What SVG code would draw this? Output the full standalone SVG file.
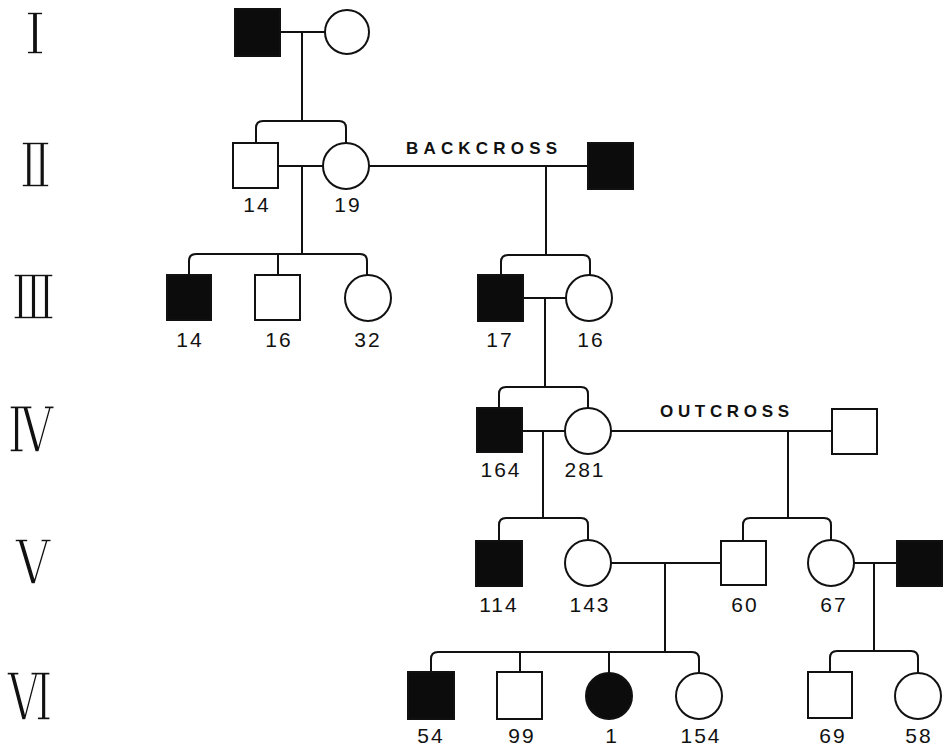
<svg xmlns="http://www.w3.org/2000/svg" width="951" height="747" viewBox="0 0 951 747">
  <style>
    .ln { fill: none; stroke: #111; stroke-width: 2; }
    .open { fill: #fff; stroke: #111; stroke-width: 2; }
    .aff { fill: #0c0c0c; stroke: #111; stroke-width: 2; }
    .lbl { font-family: "Liberation Sans", "DejaVu Sans", sans-serif; font-size: 21px; fill: #111; text-anchor: middle; letter-spacing: 2px; }
    .cross { font-family: "Liberation Sans", "DejaVu Sans", sans-serif; font-size: 17px; font-weight: bold; fill: #111; }
    /* roman generation numerals: serif glyphs stretched, thinned by a white outline */
    .gen { font-family: "DejaVu Serif", "Liberation Serif", serif; font-size: 22px; fill: #111; text-anchor: middle;
           stroke: #fff; stroke-width: 1.3px; vector-effect: non-scaling-stroke; }
  </style>
  <rect width="951" height="747" fill="#fff"/>

  <!-- generation numerals -->
  <g id="generations">
    <text class="gen" transform="translate(35,53.5) scale(1,2.6)" textLength="22" lengthAdjust="spacingAndGlyphs">Ⅰ</text>
    <text class="gen" transform="translate(35.5,186.5) scale(1,2.8)" textLength="32" lengthAdjust="spacingAndGlyphs">Ⅱ</text>
    <text class="gen" transform="translate(33.5,318.5) scale(1,2.8)" textLength="44" lengthAdjust="spacingAndGlyphs">Ⅲ</text>
    <text class="gen" transform="translate(30.5,451.5) scale(1,2.85)" textLength="46" lengthAdjust="spacingAndGlyphs">Ⅳ</text>
    <text class="gen" transform="translate(33,583.5) scale(1,2.8)" textLength="35" lengthAdjust="spacingAndGlyphs">Ⅴ</text>
    <text class="gen" transform="translate(30,719.5) scale(1,2.95)" textLength="45" lengthAdjust="spacingAndGlyphs">Ⅵ</text>
  </g>

  <!-- matings, descent lines and sibship bars -->
  <g id="connectors">
    <path class="ln" d="M280 32 H325 M302 32 V121"/>
    <path class="ln" d="M256 143 V128 Q256 121 263 121 H339 Q346 121 346 128 V143"/>
    <path class="ln" d="M278 166 H323 M302 166 V254"/>
    <path class="ln" d="M369 166 H588 M546 166 V255"/>
    <path class="ln" d="M189 275 V261 Q189 254 196 254 H360 Q367 254 367 261 V275 M278 254 V275"/>
    <path class="ln" d="M501 275 V262 Q501 255 508 255 H583 Q590 255 590 262 V275"/>
    <path class="ln" d="M523 298 H566 M545 298 V387"/>
    <path class="ln" d="M499 408 V394 Q499 387 506 387 H581 Q588 387 588 394 V408"/>
    <path class="ln" d="M522 431 H565 M543 431 V518"/>
    <path class="ln" d="M611 431 H832 M788 431 V518"/>
    <path class="ln" d="M499 541 V525 Q499 518 506 518 H581 Q588 518 588 525 V540"/>
    <path class="ln" d="M743 541 V525 Q743 518 750 518 H824 Q831 518 831 525 V540"/>
    <path class="ln" d="M611 563 H721 M665 563 V652"/>
    <path class="ln" d="M854 563 H897 M874 563 V651"/>
    <path class="ln" d="M431 672 V659 Q431 652 438 652 H692 Q699 652 699 659 V673 M520 652 V672 M609 652 V673"/>
    <path class="ln" d="M830 672 V658 Q830 651 837 651 H911 Q918 651 918 658 V673"/>
  </g>

  <text class="cross" x="406" y="154" textLength="151" lengthAdjust="spacing">BACKCROSS</text>
  <text class="cross" x="660" y="417" textLength="129" lengthAdjust="spacing">OUTCROSS</text>

  <!-- generation I -->
  <g id="I-1"><rect class="aff" x="235" y="9" width="45" height="47"/></g>
  <g id="I-2"><circle class="open" cx="347" cy="32" r="22"/></g>

  <!-- generation II -->
  <g id="II-1"><rect class="open" x="233" y="143" width="45" height="45"/><text class="lbl" x="257" y="212">14</text></g>
  <g id="II-2"><circle class="open" cx="346" cy="166" r="23"/><text class="lbl" x="348" y="212">19</text></g>
  <g id="II-3"><rect class="aff" x="588" y="143" width="45" height="46"/></g>

  <!-- generation III -->
  <g id="III-1"><rect class="aff" x="167" y="275" width="44" height="45"/><text class="lbl" x="190" y="347">14</text></g>
  <g id="III-2"><rect class="open" x="255" y="275" width="45" height="45"/><text class="lbl" x="279" y="347">16</text></g>
  <g id="III-3"><circle class="open" cx="368" cy="298" r="23"/><text class="lbl" x="368" y="347">32</text></g>
  <g id="III-4"><rect class="aff" x="478" y="275" width="45" height="46"/><text class="lbl" x="500" y="347">17</text></g>
  <g id="III-5"><circle class="open" cx="589" cy="298" r="23"/><text class="lbl" x="591" y="347">16</text></g>

  <!-- generation IV -->
  <g id="IV-1"><rect class="aff" x="477" y="408" width="45" height="44"/><text class="lbl" x="501" y="477">164</text></g>
  <g id="IV-2"><circle class="open" cx="588" cy="431" r="23"/><text class="lbl" x="585" y="477">281</text></g>
  <g id="IV-3"><rect class="open" x="832" y="409" width="45" height="45"/></g>

  <!-- generation V -->
  <g id="V-1"><rect class="aff" x="476" y="541" width="46" height="45"/><text class="lbl" x="499" y="612">114</text></g>
  <g id="V-2"><circle class="open" cx="588" cy="563" r="23"/><text class="lbl" x="590" y="612">143</text></g>
  <g id="V-3"><rect class="open" x="721" y="541" width="45" height="44"/><text class="lbl" x="745" y="612">60</text></g>
  <g id="V-4"><circle class="open" cx="831" cy="563" r="23"/><text class="lbl" x="834" y="612">67</text></g>
  <g id="V-5"><rect class="aff" x="897" y="541" width="45" height="45"/></g>

  <!-- generation VI -->
  <g id="VI-1"><rect class="aff" x="408" y="672" width="46" height="47"/><text class="lbl" x="431" y="743">54</text></g>
  <g id="VI-2"><rect class="open" x="497" y="672" width="45" height="47"/><text class="lbl" x="522" y="743">99</text></g>
  <g id="VI-3"><circle class="aff" cx="609" cy="696" r="23"/><text class="lbl" x="612" y="743">1</text></g>
  <g id="VI-4"><circle class="open" cx="699" cy="696" r="23"/><text class="lbl" x="701" y="743">154</text></g>
  <g id="VI-5"><rect class="open" x="808" y="672" width="44" height="46"/><text class="lbl" x="833" y="743">69</text></g>
  <g id="VI-6"><circle class="open" cx="918" cy="696" r="23"/><text class="lbl" x="919" y="743">58</text></g>
</svg>
